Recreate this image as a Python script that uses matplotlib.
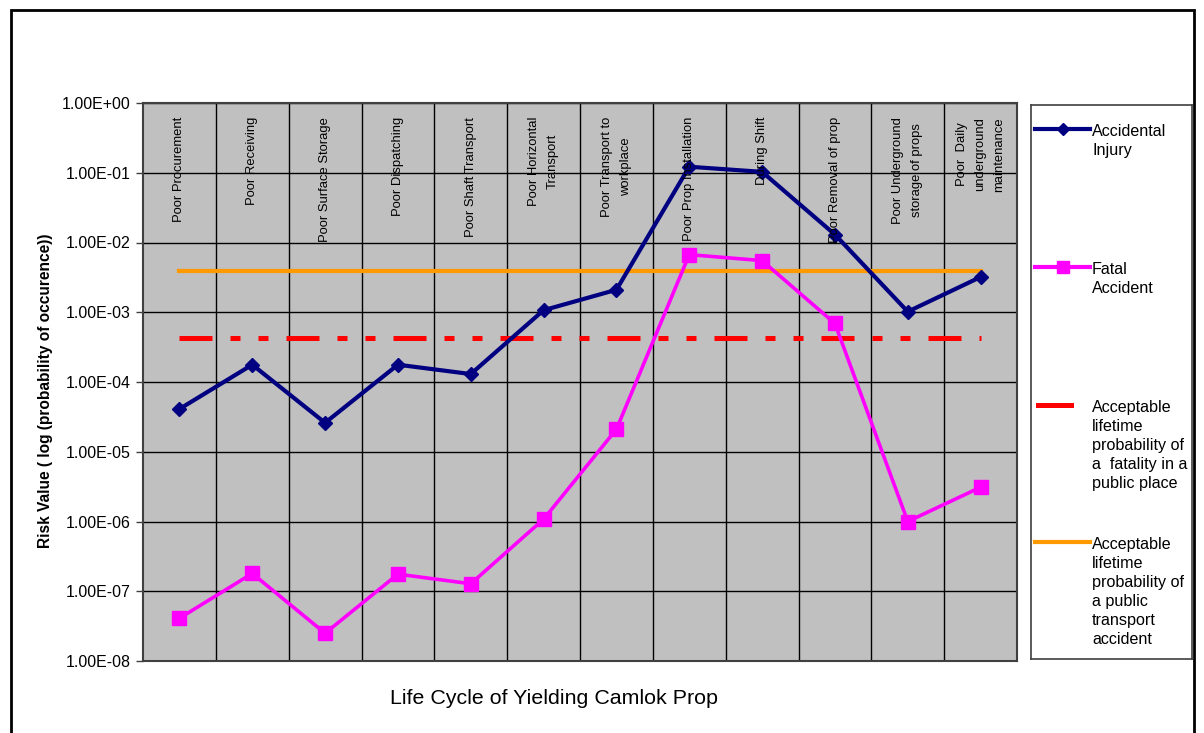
import numpy as np
import matplotlib
matplotlib.use("Agg")
import matplotlib.pyplot as plt
from matplotlib.lines import Line2D
from matplotlib.patches import Rectangle

plt.rcParams['font.family'] = ['Liberation Sans', 'DejaVu Sans']

# --- data -------------------------------------------------------------
stages = ["Poor Procurement", "Poor Receiving", "Poor Surface Storage",
          "Poor Dispatching", "Poor Shaft Transport", "Poor Horizontal\nTransport",
          "Poor Transport to\nworkplace", "Poor Prop Installation", "During Shift",
          "Poor Removal of prop", "Poor Underground\nstorage of props",
          "Poor  Daily\nunderground\nmaintenance"]

injury = [4.1e-5, 1.77e-4, 2.6e-5, 1.77e-4, 1.3e-4, 1.07e-3,
          2.1e-3, 0.122, 0.103, 0.013, 1.02e-3, 3.2e-3]
fatal = [4.1e-8, 1.8e-7, 2.5e-8, 1.76e-7, 1.28e-7, 1.08e-6,
         2.1e-5, 6.7e-3, 5.5e-3, 6.9e-4, 1.0e-6, 3.1e-6]
public_place = [4.3e-4] * 12
public_transport = [3.9e-3] * 12

legend_labels = ["Accidental\nInjury", "Fatal\nAccident",
                 "Acceptable\nlifetime\nprobability of\na  fatality in a\npublic place",
                 "Acceptable\nlifetime\nprobability of\na public\ntransport\naccident"]

yticks = [1e0, 1e-1, 1e-2, 1e-3, 1e-4, 1e-5, 1e-6, 1e-7, 1e-8]

navy = '#000080'
magenta = '#FF00FF'
red = '#FF0000'
orange = '#FF9900'

# --- figure -------------------------------------------------------------
W, H = 1204, 733
fig = plt.figure(figsize=(W / 100, H / 100), dpi=100)

def box(x0, y0, x1, y1):
    return [x0 / W, 1 - y1 / H, (x1 - x0) / W, (y1 - y0) / H]

ax = fig.add_axes(box(143, 103, 1017, 661))
ax.set_facecolor('#C0C0C0')

x = np.arange(1, len(stages) + 1)

ax.plot(x, public_transport, color=orange, lw=3.0, zorder=3)
ax.plot(x, public_place, color=red, lw=3.6, zorder=3,
        dashes=(6.6, 3.6, 2.0, 3.6, 2.0, 3.6))
ax.plot(x, fatal, color=magenta, lw=2.6, marker='s', ms=10, zorder=4)
ax.plot(x, injury, color=navy, lw=3.0, marker='D', ms=7, zorder=5)

ax.set_yscale('log')
ax.set_ylim(1e-8, 1e0)
ax.set_xlim(0.5, len(stages) + 0.5)
ax.set_yticks(yticks)
ax.set_yticklabels(["%.2E" % v for v in yticks], fontsize=11.5)
ax.yaxis.set_minor_locator(matplotlib.ticker.NullLocator())
ax.tick_params(axis='y', direction='out', length=5, width=1, color='#404040', pad=4)
ax.set_xticks([])
ax.set_xticks(np.arange(1.5, len(stages), 1.0), minor=True)
ax.tick_params(axis='x', which='minor', length=0)
ax.grid(True, axis='y', which='major', color='black', lw=1.0, zorder=1)
ax.grid(True, axis='x', which='minor', color='black', lw=1.0, zorder=1)
ax.set_axisbelow(True)
for s in ax.spines.values():
    s.set_color('#404040')
    s.set_linewidth(1.5)

for xi, lab in zip(x, stages):
    ax.annotate(lab, xy=(xi, 1e0), xytext=(0, -10), textcoords='offset points',
                rotation=90, ha='center', va='top', multialignment='center',
                fontsize=9.4, linespacing=1.75, zorder=6)

ax.set_ylabel('Risk Value ( log (probability of occurence))', fontsize=11.2,
              fontweight='bold', va='center')
ax.yaxis.set_label_coords(-0.112, 0.484)
ax.set_xlabel('Life Cycle of Yielding Camlok Prop', fontsize=15.4, va='center')
ax.xaxis.set_label_coords(0.470, -0.068)

# --- legend box (Excel style) -------------------------------------------
lax = fig.add_axes(box(1031, 105, 1192, 659))
lax.set_xlim(0, 161)
lax.set_ylim(554, 0)
lax.set_xticks([])
lax.set_yticks([])
for s in lax.spines.values():
    s.set_color('#404040')
    s.set_linewidth(1.2)

handles = [dict(color=navy, lw=3.0, marker='D', ms=6, markevery=[1]),
           dict(color=magenta, lw=3.0, marker='s', ms=9, markevery=[1]),
           dict(color=red, lw=3.6),
           dict(color=orange, lw=3.0)]
hy = [24, 162, 300, 437]
hx = [(4, 59), (4, 59), (7, 40), (4, 59)]
for h, yy, (xa, xb), lab in zip(handles, hy, hx, legend_labels):
    lax.add_line(Line2D([xa, (xa + xb) / 2, xb], [yy, yy, yy], **h))
    lax.text(61, yy - 5, lab, fontsize=11.6, va='top', ha='left', linespacing=1.33)

# outer chart frame
fig.patches.append(Rectangle((11 / W, -0.05), (1194 - 11) / W, 1.05 - 10 / H,
                             transform=fig.transFigure, fill=False,
                             ec='black', lw=2))

fig.savefig('out.png', dpi=100)
